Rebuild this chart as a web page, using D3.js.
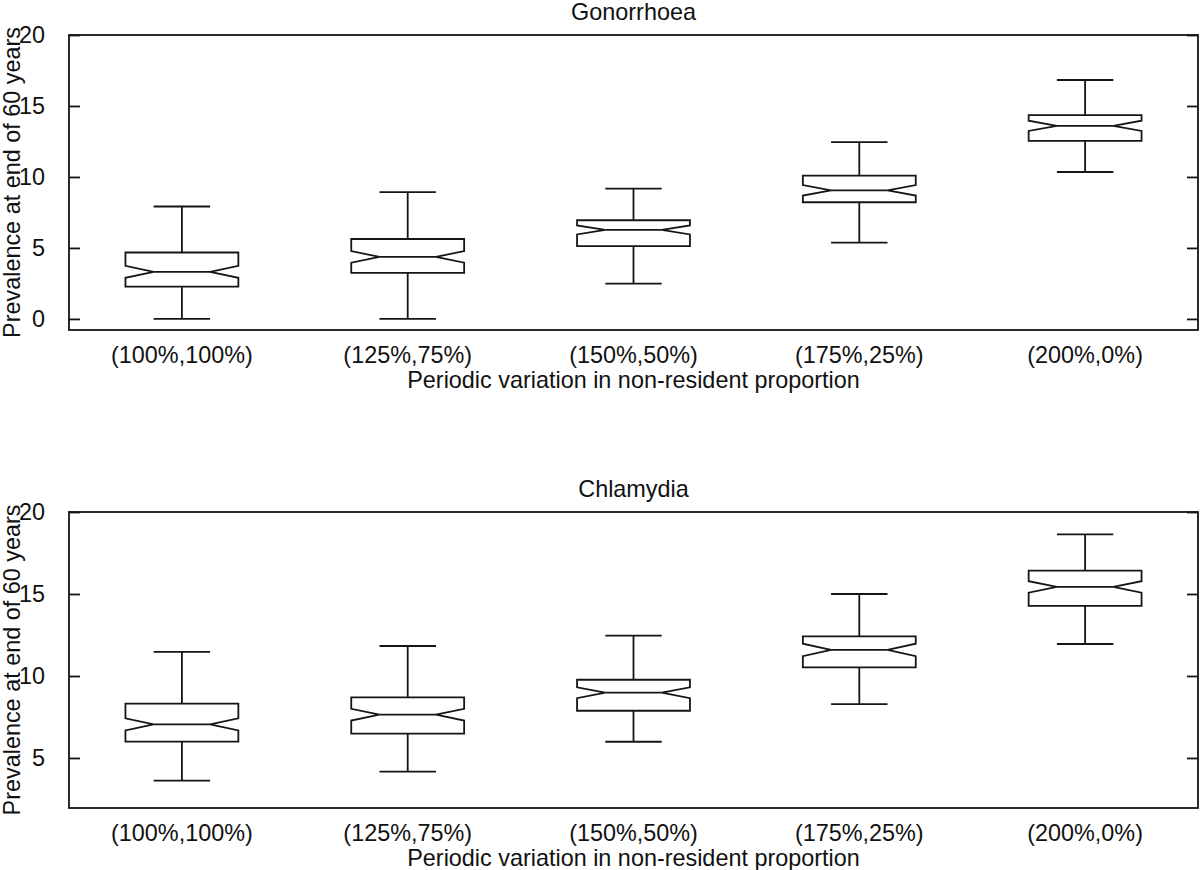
<!DOCTYPE html>
<html>
<head>
<meta charset="utf-8">
<script src="https://cdn.jsdelivr.net/npm/d3@7"></script>
<style>
  html, body { margin: 0; padding: 0; background: #fff; }
  svg { display: block; }
  text { font-family: "Liberation Sans", Arial, Helvetica, sans-serif; fill: #111; }
</style>
</head>
<body>
<svg id="chart" width="1200" height="870"></svg>
<script>
// ---- data ----
const categories = ["(100%,100%)", "(125%,75%)", "(150%,50%)", "(175%,25%)", "(200%,0%)"];
const panelTitles = ["Gonorrhoea", "Chlamydia"];
const yTicks = [[0, 5, 10, 15, 20], [5, 10, 15, 20]];
const yAxisLabel = "Prevalence at end of 60 years";
const xAxisLabel = "Periodic variation in non-resident proportion";

const gonoLow    = [0.0, 0.0, 2.49, 5.37, 10.35];
const gonoQ1     = [2.28, 3.24, 5.13, 8.22, 12.54];
const gonoMedian = [3.32, 4.37, 6.27, 9.06, 13.60];
const gonoQ3     = [4.68, 5.63, 6.95, 10.09, 14.35];
const gonoHigh   = [7.92, 8.93, 9.18, 12.46, 16.83];
const gonoNotch  = [0.42, 0.41, 0.32, 0.37, 0.36];

const chlaLow    = [3.62, 4.17, 5.99, 8.29, 11.95];
const chlaQ1     = [6.00, 6.48, 7.88, 10.53, 14.27];
const chlaMedian = [7.05, 7.64, 8.98, 11.59, 15.43];
const chlaQ3     = [8.32, 8.70, 9.77, 12.42, 16.42];
const chlaHigh   = [11.47, 11.83, 12.46, 15.00, 18.64];
const chlaNotch  = [0.37, 0.36, 0.33, 0.38, 0.35];

const yDomains = [[-0.78, 20], [1.95, 20]];

// ---- layout ----
const svg = d3.select("#chart");
const FS = 23.4;
const left = 69, right = 1198;
const panels = [
  { top: 35, bottom: 330, low: gonoLow, q1: gonoQ1, med: gonoMedian, q3: gonoQ3, high: gonoHigh, notch: gonoNotch },
  { top: 512, bottom: 808, low: chlaLow, q1: chlaQ1, med: chlaMedian, q3: chlaQ3, high: chlaHigh, notch: chlaNotch }
];
const stroke = "#151515", sw = 1.8;

panels.forEach((p, pi) => {
  const x = d3.scaleBand().domain(categories).range([left, right]).padding(0);
  const y = d3.scaleLinear().domain(yDomains[pi]).range([p.bottom, p.top]);
  const g = svg.append("g");

  const rows = categories.map((c, i) => ({
    c, low: p.low[i], q1: p.q1[i], med: p.med[i], q3: p.q3[i], high: p.high[i], n: p.notch[i]
  }));
  const hw = x.bandwidth() * 0.25;
  const cxOf = d => x(d.c) + x.bandwidth() / 2;

  const box = g.selectAll("g.box").data(rows).join("g").attr("class", "box");
  // whiskers
  box.append("line")
    .attr("x1", cxOf).attr("x2", cxOf)
    .attr("y1", d => y(d.q3)).attr("y2", d => y(d.high))
    .attr("stroke", stroke).attr("stroke-width", sw);
  box.append("line")
    .attr("x1", cxOf).attr("x2", cxOf)
    .attr("y1", d => y(d.q1)).attr("y2", d => y(d.low))
    .attr("stroke", stroke).attr("stroke-width", sw);
  // caps
  ["high", "low"].forEach(k => {
    box.append("line")
      .attr("x1", d => cxOf(d) - hw / 2)
      .attr("x2", d => cxOf(d) + hw / 2)
      .attr("y1", d => y(d[k])).attr("y2", d => y(d[k]))
      .attr("stroke", stroke).attr("stroke-width", sw);
  });
  // notched box
  box.append("path")
    .attr("d", d => {
      const cx = cxOf(d);
      const pts = [
        [cx - hw, y(d.q1)], [cx - hw, y(d.med - d.n)], [cx - hw / 2, y(d.med)],
        [cx - hw, y(d.med + d.n)], [cx - hw, y(d.q3)], [cx + hw, y(d.q3)],
        [cx + hw, y(d.med + d.n)], [cx + hw / 2, y(d.med)], [cx + hw, y(d.med - d.n)],
        [cx + hw, y(d.q1)]
      ];
      return "M" + pts.map(q => q.join(",")).join("L") + "Z";
    })
    .attr("fill", "#fff").attr("stroke", stroke).attr("stroke-width", sw)
    .attr("stroke-linejoin", "miter");
  // median
  box.append("line")
    .attr("x1", d => cxOf(d) - hw / 2)
    .attr("x2", d => cxOf(d) + hw / 2)
    .attr("y1", d => y(d.med)).attr("y2", d => y(d.med))
    .attr("stroke", stroke).attr("stroke-width", sw);

  // left axis
  const ya = g.append("g").attr("transform", `translate(${left},0)`)
    .call(d3.axisLeft(y).tickValues(yTicks[pi]).tickSize(-11).tickPadding(24).tickFormat(d3.format("d")));
  ya.select(".domain").remove();
  ya.selectAll("line").attr("stroke", stroke).attr("stroke-width", sw);
  ya.selectAll("text").style("font-size", FS + "px").attr("fill", "#111")
    .style("font-family", '"Liberation Sans", Arial, sans-serif');
  // right axis
  const yr = g.append("g").attr("transform", `translate(${right},0)`)
    .call(d3.axisRight(y).tickValues(yTicks[pi]).tickSize(-11).tickFormat(""));
  yr.select(".domain").remove();
  yr.selectAll("line").attr("stroke", stroke).attr("stroke-width", sw);

  // bottom labels
  const xa = g.append("g").attr("transform", `translate(0,${p.bottom})`)
    .call(d3.axisBottom(x).tickSize(0).tickPadding(16));
  xa.select(".domain").remove();
  xa.selectAll("text").style("font-size", FS + "px").attr("fill", "#111")
    .style("font-family", '"Liberation Sans", Arial, sans-serif');

  // frame
  g.append("rect").attr("x", left).attr("y", p.top)
    .attr("width", right - left).attr("height", p.bottom - p.top)
    .attr("fill", "none").attr("stroke", stroke).attr("stroke-width", sw);

  // title
  g.append("text").attr("x", (left + right) / 2).attr("y", p.top - 15)
    .attr("text-anchor", "middle").style("font-size", FS + "px").text(panelTitles[pi]);
  // x axis title
  g.append("text").attr("x", (left + right) / 2).attr("y", p.bottom + 58)
    .attr("text-anchor", "middle").style("font-size", FS + "px").text(xAxisLabel);
  // y axis title
  g.append("text")
    .attr("transform", `translate(20,${(p.top + p.bottom) / 2}) rotate(-90)`)
    .attr("text-anchor", "middle").style("font-size", FS + "px").text(yAxisLabel);
});
</script>
</body>
</html>
